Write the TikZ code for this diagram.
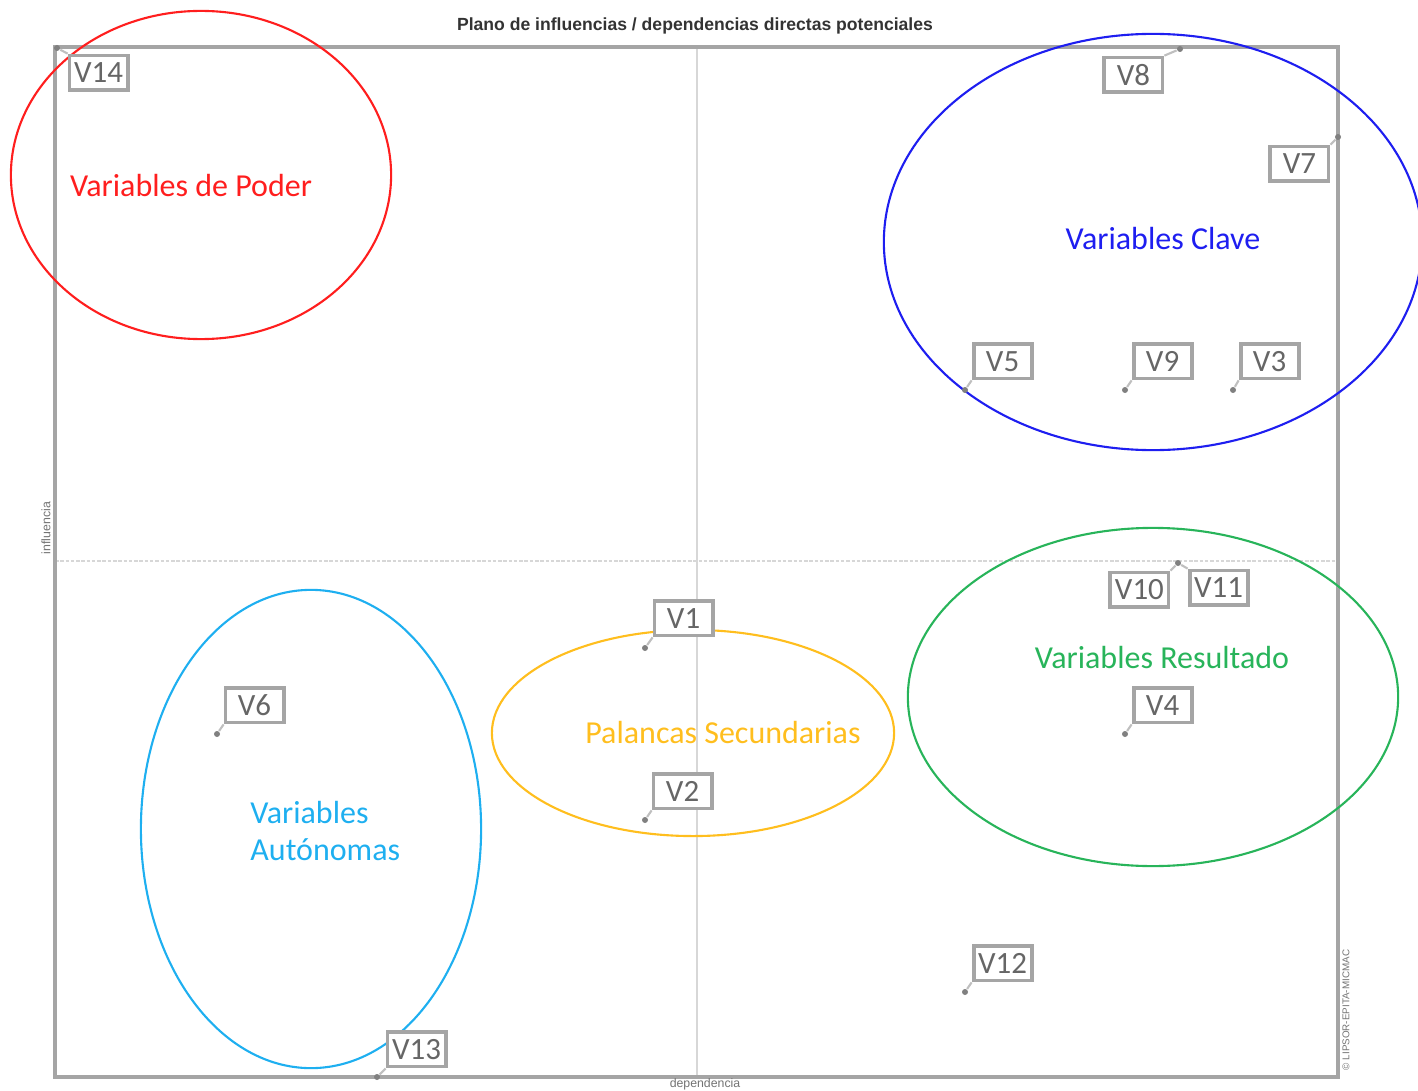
\documentclass[tikz,border=0pt]{standalone}
\usepackage{fontspec}
\setmainfont{Carlito}
\newfontfamily\titlefont{Liberation Sans}
\usetikzlibrary{positioning}
\definecolor{framegray}{RGB}{165,165,165}
\definecolor{axisgray}{RGB}{215,215,215}
\definecolor{poder}{RGB}{255,30,30}
\definecolor{clave}{RGB}{30,30,240}
\definecolor{resultado}{RGB}{40,180,90}
\definecolor{autonoma}{RGB}{30,175,240}
\definecolor{palanca}{RGB}{255,190,30}
\tikzset{
  varbox/.style    = {draw=framegray, line width=1.1pt, fill=white,
                      text=black!60, font=\fontsize{8.8}{10}\selectfont,
                      minimum width=0.58cm, minimum height=0.34cm, inner sep=1pt},
  dot/.style       = {circle, fill=black!50, inner sep=0pt, minimum size=0.06cm},
  tail/.style      = {draw=black!25, line width=0.6pt},
  zone/.style      = {line width=0.6pt},
  zonelabel/.style = {font=\fontsize{9.1}{10.3}\selectfont, align=left},
  tiny/.style      = {font=\titlefont\fontsize{3.5}{4}\selectfont, text=black!55}
}
\begin{document}
\begin{tikzpicture}[x=0.01cm, y=-0.01cm]
  \useasboundingbox (0,0) rectangle (1418,1091);
  % axes and frame
  \draw[axisgray, line width=0.8pt, dash pattern=on 1pt off 0.5pt] (55,561) -- (1338,561);
  \draw[axisgray, line width=0.6pt] (697,47) -- (697,1077);
  \draw[framegray, line width=0.9pt] (55,47) rectangle (1338,1077);
  \node[font=\titlefont\bfseries\fontsize{5}{6}\selectfont, text=black!80] (title) at (695,26)
    {Plano de influencias / dependencias directas potenciales};
  \node[tiny] (xlabel) at (705,1084) {dependencia};
  \node[tiny, rotate=90] (ylabel) at (46,528) {influencia};
  \node[tiny, rotate=90, font=\titlefont\fontsize{2.8}{3}\selectfont] (copy) at (1346,1010)
    {\textcopyright{} LIPSOR-EPITA-MICMAC};
  % zones
  \draw[zone, poder]     (201,175) ellipse [x radius=1.90cm, y radius=1.64cm];
  \draw[zone, clave]     (1153,242) ellipse [x radius=2.69cm, y radius=2.08cm];
  \draw[zone, resultado] (1153,697) ellipse [x radius=2.45cm, y radius=1.69cm];
  \draw[zone, autonoma]  (311,829) ellipse [x radius=1.70cm, y radius=2.39cm];
  \draw[zone, palanca]   (693,733) ellipse [x radius=2.01cm, y radius=1.03cm];
  \node[zonelabel, text=poder]     (poderlbl) at (191,186)  {Variables de Poder};
  \node[zonelabel, text=clave]     (clavelbl) at (1163,239) {Variables Clave};
  \node[zonelabel, text=resultado] (reslbl)   at (1162,658) {Variables Resultado};
  \node[zonelabel, text=palanca]   (pallbl)   at (723,733)  {Palancas Secundarias};
  \node[zonelabel, text=autonoma, anchor=west] (autlbl) at (238,831) {Variables\\Autónomas};
  % variables
  \node[dot] (p14) at (57,48)    {};
  \node[dot] (p8)  at (1180,49)  {};
  \node[dot] (p7)  at (1338,137) {};
  \node[dot] (p5)  at (965,390)  {};
  \node[dot] (p9)  at (1125,390) {};
  \node[dot] (p3)  at (1233,390) {};
  \node[dot] (p10) at (1178,563) {};
  \node[dot] (p1)  at (645,648)  {};
  \node[dot] (p6)  at (217,734)  {};
  \node[dot] (p4)  at (1125,734) {};
  \node[dot] (p2)  at (645,820)  {};
  \node[dot] (p12) at (965,992)  {};
  \node[dot] (p13) at (377,1077) {};
  \node[varbox, below right=0.03cm and 0.08cm of p14] (v14) {V14};
  \node[varbox, below left=0.04cm and 0.13cm of p8]   (v8)  {V8};
  \node[varbox, below left=0.05cm and 0.05cm of p7]   (v7)  {V7};
  \node[varbox, above right=0.07cm and 0.04cm of p5]  (v5)  {V5};
  \node[varbox, above right=0.07cm and 0.04cm of p9]  (v9)  {V9};
  \node[varbox, above right=0.07cm and 0.03cm of p3]  (v3)  {V3};
  \node[varbox, below left=0.05cm and 0.05cm of p10]  (v10) {V10};
  \node[varbox, below right=0.03cm and 0.07cm of p10] (v11) {V11};
  \node[varbox, above right=0.08cm and 0.05cm of p1]  (v1)  {V1};
  \node[varbox, above right=0.07cm and 0.04cm of p6]  (v6)  {V6};
  \node[varbox, above right=0.07cm and 0.04cm of p4]  (v4)  {V4};
  \node[varbox, above right=0.07cm and 0.04cm of p2]  (v2)  {V2};
  \node[varbox, above right=0.07cm and 0.04cm of p12] (v12) {V12};
  \node[varbox, above right=0.06cm and 0.06cm of p13] (v13) {V13};
  \draw[tail] (p14) -- (v14.north west);
  \draw[tail] (p8)  -- (v8.north east);
  \draw[tail] (p7)  -- (v7.north east);
  \draw[tail] (p5)  -- (v5.south west);
  \draw[tail] (p9)  -- (v9.south west);
  \draw[tail] (p3)  -- (v3.south west);
  \draw[tail] (p10) -- (v10.north east);
  \draw[tail] (p10) -- (v11.north west);
  \draw[tail] (p1)  -- (v1.south west);
  \draw[tail] (p6)  -- (v6.south west);
  \draw[tail] (p4)  -- (v4.south west);
  \draw[tail] (p2)  -- (v2.south west);
  \draw[tail] (p12) -- (v12.south west);
  \draw[tail] (p13) -- (v13.south west);
\end{tikzpicture}
\end{document}
